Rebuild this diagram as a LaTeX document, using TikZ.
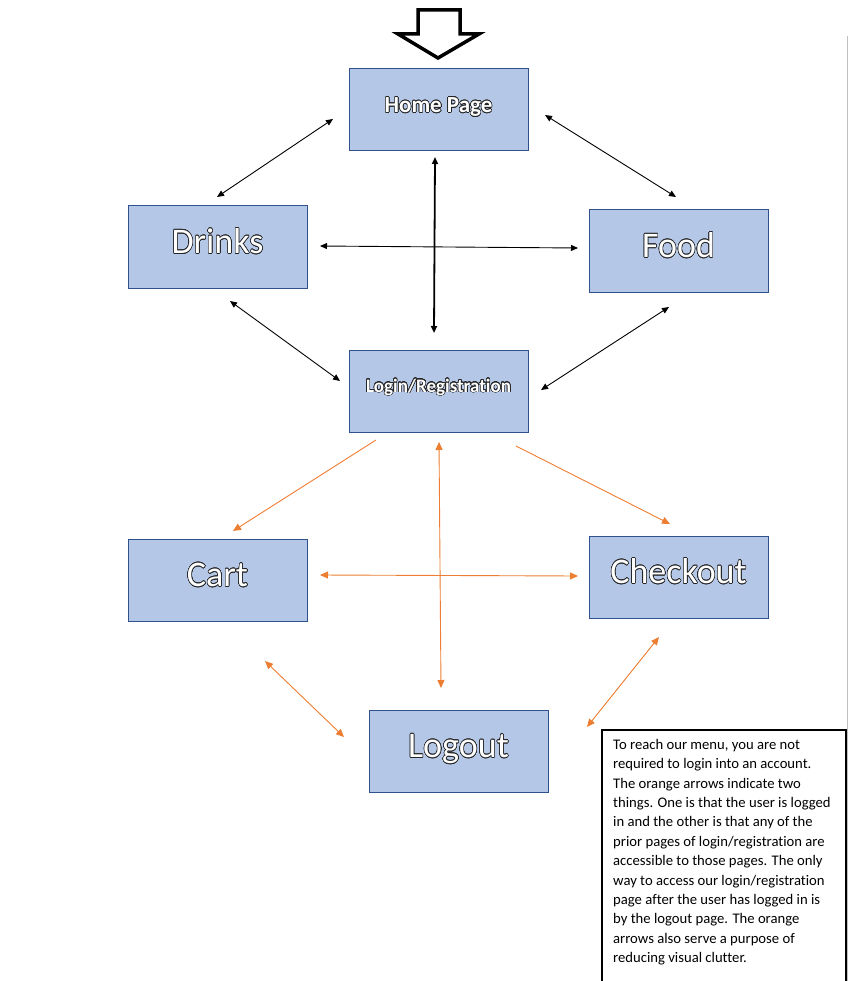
\documentclass[tikz,border=0pt]{standalone}
\usepackage{fontspec}
\setmainfont{Carlito}[RawFeature={-liga;-clig;-dlig}]
\usepackage{contour}
\contourlength{0.55pt}
\contournumber{24}
\usetikzlibrary{arrows.meta,positioning}
\definecolor{pagefill}{HTML}{B4C7E7}
\definecolor{pageline}{HTML}{2F528F}
\definecolor{loggedin}{HTML}{ED7D31}
\definecolor{pagegray}{HTML}{BFBFBF}
\newcommand{\outlined}[1]{\contour{black!85}{#1}}

\begin{document}
\begin{tikzpicture}[
  x=1pt, y=-1pt,
  pagebox/.style={rectangle, draw=pageline, line width=1pt, fill=pagefill, minimum width=179pt, minimum height=82pt, inner sep=0pt, text=white},
  bigpage/.style={pagebox, font=\fontsize{36}{40}\selectfont, text height=25pt, text depth=12pt},
  smallpage/.style={pagebox, font=\bfseries\fontsize{23}{26}\selectfont, text height=17pt, text depth=12pt},
  tinypage/.style={pagebox, font=\bfseries\fontsize{19}{22}\selectfont, text height=14pt, text depth=12pt},
  biarrow/.style={{Triangle[length=7pt,width=6pt]}-{Triangle[length=7pt,width=6pt]}, line width=0.9pt},
  loggedarrow/.style={-{Triangle[length=8pt,width=7pt]}, loggedin, line width=0.9pt},
  loggedbiarrow/.style={{Triangle[length=8pt,width=7pt]}-{Triangle[length=8pt,width=7pt]}, loggedin, line width=0.9pt},
  notetext/.style={anchor=north west, align=left, inner sep=5pt, font=\fontsize{14.67}{19.4}\selectfont}
]
\useasboundingbox (0,0) rectangle (848,981);

% entry arrow
\draw[line width=3.5pt, fill=white, miter limit=10] (418,10) -- (460,10) -- (460,34) -- (479,34) -- (438,58) -- (398,34) -- (418,34) -- cycle;

% pages
\node[smallpage] (home) at (438.5,110) {\outlined{Home Page}};
\node[bigpage] (drinks) at (217.5,247) {\outlined{Drinks}};
\node[bigpage] (food) at (678.5,251) {\outlined{Food}};
\node[tinypage, below=198pt of home] (login) {\outlined{Login/Registration}};
\node[bigpage] (cart) at (217.5,580) {\outlined{Cart}};
\node[bigpage] (checkout) at (678.5,577) {\outlined{Checkout}};
\node[bigpage] (logout) at (458.5,751) {\outlined{Logout}};

% arrow ends (the arrows stop short of the boxes)
\coordinate (hm-dr) at (333,119);  \coordinate (dr-hm) at (217,197);
\coordinate (hm-fd) at (545,115);  \coordinate (fd-hm) at (676,197);
\coordinate (hm-lg) at (435,157);  \coordinate (lg-hm) at (434,333);
\coordinate (dr-fd) at (320,246);  \coordinate (fd-dr) at (578,248);
\coordinate (dr-lg) at (230,301);  \coordinate (lg-dr) at (340,381);
\coordinate (fd-lg) at (669,307);  \coordinate (lg-fd) at (541,390);
\coordinate (lg-ct) at (376,440);  \coordinate (ct-lg) at (233,531);
\coordinate (lg-ck) at (516,446);  \coordinate (ck-lg) at (670,524);
\coordinate (lg-lo) at (439,442);  \coordinate (lo-lg) at (441,688);
\coordinate (ct-ck) at (320,575);  \coordinate (ck-ct) at (578,576);
\coordinate (ct-lo) at (265,661);  \coordinate (lo-ct) at (344,737);
\coordinate (ck-lo) at (659,637);  \coordinate (lo-ck) at (587,727);

% menu pages (black)
\draw[biarrow] (hm-dr) -- (dr-hm);
\draw[biarrow] (hm-fd) -- (fd-hm);
\draw[biarrow, line width=1.8pt] (hm-lg) -- (lg-hm);
\draw[biarrow] (dr-fd) -- (fd-dr);
\draw[biarrow] (dr-lg) -- (lg-dr);
\draw[biarrow] (fd-lg) -- (lg-fd);

% logged in (orange)
\draw[loggedarrow] (lg-ct) -- (ct-lg);
\draw[loggedarrow] (lg-ck) -- (ck-lg);
\draw[loggedbiarrow] (lg-lo) -- (lo-lg);
\draw[loggedbiarrow] (ct-ck) -- (ck-ct);
\draw[loggedbiarrow] (ct-lo) -- (lo-ct);
\draw[loggedbiarrow] (ck-lo) -- (lo-ck);

% note
\draw[line width=1.2pt] (602,995) |- (846,730) -- (846,995);
\node[notetext] (note) at (608,734) {To reach our menu, you are not\\
required to login into an account.\\
The orange arrows indicate two\\
things. One is that the user is logged\\
in and the other is that any of the\\
prior pages of login/registration are\\
accessible to those pages. The only\\
way to access our login/registration\\
page after the user has logged in is\\
by the logout page. The orange\\
arrows also serve a purpose of\\
reducing visual clutter.};
\draw[pagegray, line width=1.2pt] (847.5,36) -- (847.5,981);

\end{tikzpicture}
\end{document}
